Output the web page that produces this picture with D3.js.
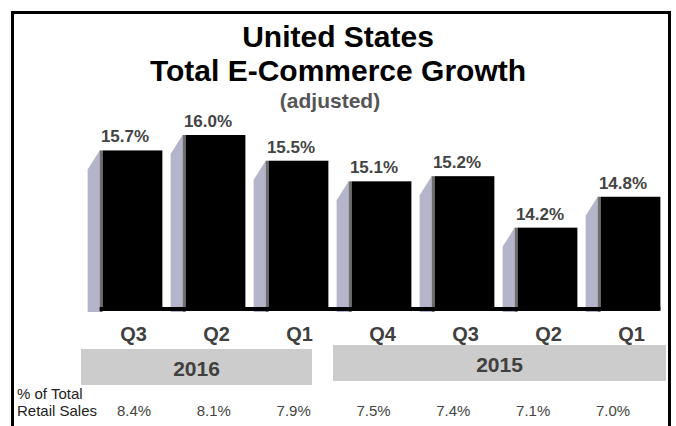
<!DOCTYPE html>
<html>
<head>
<meta charset="utf-8">
<script src="https://cdn.jsdelivr.net/npm/d3@7"></script>
<style>
  html, body { margin: 0; padding: 0; background: #fff; }
  svg { display: block; }
  text { font-family: "Liberation Sans", Arial, sans-serif; }
</style>
</head>
<body>
<svg id="chart" width="676" height="426"></svg>
<script>
// Quarterly e-commerce growth, most recent quarter first
const quarters = ["Q3", "Q2", "Q1", "Q4", "Q3", "Q2", "Q1"];
const years = ["2016", "2016", "2016", "2015", "2015", "2015", "2015"];
const growth = [15.7, 16.0, 15.5, 15.1, 15.2, 14.2, 14.8];
const retailShare = [8.4, 8.1, 7.9, 7.5, 7.4, 7.1, 7.0];
const yearGroups = ["2016", "2015"];

const svg = d3.select("#chart");
const W = 676, H = 426;

// Frame (open at the bottom)
svg.append("path")
  .attr("d", `M12.5,${H + 5} V12.5 H669.5 V${H + 5}`)
  .attr("fill", "none").attr("stroke", "#000").attr("stroke-width", 3);

// Titles
svg.append("text").attr("x", 338).attr("y", 47).attr("text-anchor", "middle")
  .attr("font-size", 30).attr("font-weight", "bold").attr("fill", "#000")
  .text("United States");
svg.append("text").attr("x", 338).attr("y", 81).attr("text-anchor", "middle")
  .attr("font-size", 30).attr("font-weight", "bold").attr("fill", "#000")
  .text("Total E-Commerce Growth");
svg.append("text").attr("x", 330).attr("y", 108).attr("text-anchor", "middle")
  .attr("font-size", 21).attr("font-weight", "bold").attr("fill", "#555")
  .text("(adjusted)");

const idx = d3.range(growth.length);
const x = d3.scaleBand().domain(idx).range([91, 672]).paddingInner(0.28).paddingOuter(0.14);
const y = d3.scaleLinear().domain([12.6, 16.0]).range([310, 135]);

const depth = 15, slant = 19, edge = 3;
const g = svg.append("g");

// Side faces of the bars
g.selectAll("path.side").data(idx).join("path")
  .attr("class", "side")
  .attr("d", i => {
    const x0 = x(i), top = y(growth[i]), base = y(12.6) + 2;
    return `M${x0 - depth},${base} V${top + slant} L${x0 - edge},${top} V${base} Z`;
  })
  .attr("fill", "#b4b4ca");
g.selectAll("rect.edge").data(idx).join("rect")
  .attr("class", "edge")
  .attr("x", i => x(i) - edge).attr("width", edge)
  .attr("y", i => y(growth[i])).attr("height", i => y(12.6) + 2 - y(growth[i]))
  .attr("fill", "#6e6e6e");

// Front faces
g.selectAll("rect.bar").data(idx).join("rect")
  .attr("class", "bar")
  .attr("x", i => x(i)).attr("width", x.bandwidth())
  .attr("y", i => y(growth[i])).attr("height", i => y(12.6) - y(growth[i]))
  .attr("fill", "#000");

// Floor line
g.append("rect")
  .attr("x", x(0) - edge).attr("width", x(idx.length - 1) + x.bandwidth() - x(0) + edge)
  .attr("y", y(12.6) - 3).attr("height", 4).attr("fill", "#000");

// Value labels
g.selectAll("text.val").data(idx).join("text")
  .attr("class", "val")
  .attr("x", i => x(i) + (x.bandwidth() - depth) / 2)
  .attr("y", i => y(growth[i]) - 8)
  .attr("text-anchor", "middle").attr("font-size", 17).attr("font-weight", "bold")
  .attr("fill", "#444")
  .text(i => growth[i].toFixed(1) + "%");

// Quarter labels
g.selectAll("text.q").data(idx).join("text")
  .attr("class", "q")
  .attr("x", i => x(i) + x.bandwidth() / 2 + 1)
  .attr("y", 341)
  .attr("text-anchor", "middle").attr("font-size", 20).attr("font-weight", "bold")
  .attr("fill", "#404040")
  .text(i => quarters[i]);

// Year bands
const yearBox = {
  "2016": { x0: 81, x1: 312, y0: 349, y1: 385 },
  "2015": { x0: 333, x1: 666, y0: 345, y1: 381 }
};
yearGroups.forEach(yr => {
  const b = yearBox[yr];
  svg.append("rect").attr("x", b.x0).attr("y", b.y0)
    .attr("width", b.x1 - b.x0).attr("height", b.y1 - b.y0).attr("fill", "#cccccc");
  svg.append("text").attr("x", (b.x0 + b.x1) / 2).attr("y", b.y0 + 27)
    .attr("text-anchor", "middle").attr("font-size", 21).attr("font-weight", "bold")
    .attr("fill", "#404040").text(yr);
});

// Share of total retail sales
const xs = d3.scalePoint().domain(idx).range([134, 613]);
svg.append("text").attr("x", 17).attr("y", 399).attr("font-size", 15).attr("fill", "#222")
  .text("% of Total");
svg.append("text").attr("x", 17).attr("y", 416).attr("font-size", 15).attr("fill", "#222")
  .text("Retail Sales");
svg.selectAll("text.share").data(idx).join("text")
  .attr("class", "share")
  .attr("x", i => xs(i))
  .attr("y", 416)
  .attr("text-anchor", "middle").attr("font-size", 15).attr("fill", "#444")
  .text(i => retailShare[i].toFixed(1) + "%");
</script>
</body>
</html>
